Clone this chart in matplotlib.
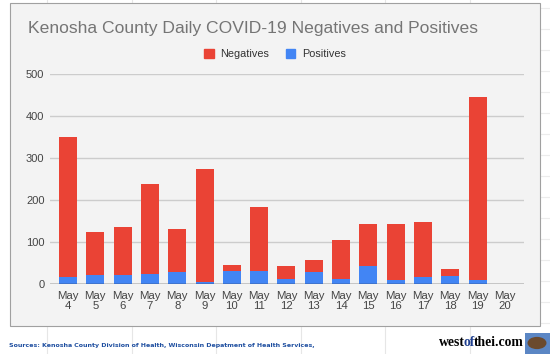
import numpy as np
import matplotlib
matplotlib.use("Agg")
import matplotlib.pyplot as plt
from matplotlib.patches import Rectangle, Circle
from matplotlib.lines import Line2D

days = ["May\n4", "May\n5", "May\n6", "May\n7", "May\n8", "May\n9", "May\n10", "May\n11",
        "May\n12", "May\n13", "May\n14", "May\n15", "May\n16", "May\n17", "May\n18", "May\n19",
        "May\n20"]
positives = [16, 21, 21, 23, 29, 5, 32, 30, 13, 29, 13, 44, 9, 17, 19, 9, 0]
negatives = [333, 102, 114, 214, 102, 268, 13, 153, 31, 27, 92, 100, 135, 131, 16, 436, 0]

RED = "#ea4335"
BLUE = "#4285f4"

plt.rcParams['font.family'] = ['Liberation Sans', 'DejaVu Sans']

W, H = 550, 354
fig = plt.figure(figsize=(W / 100, H / 100), dpi=100)
fig.patch.set_facecolor("white")

# faint spreadsheet grid behind the chart
for x in [47, 132, 216, 301, 385, 470]:
    fig.add_artist(Line2D([x / W, x / W], [0, 1], color="#e6e6e6", lw=0.8, zorder=0))
for y in range(8, 354, 21):
    fig.add_artist(Line2D([540 / W, 1], [1 - y / H, 1 - y / H], color="#ececec", lw=0.8, zorder=0))

# chart panel
fig.add_artist(Rectangle((10 / W, 1 - 326 / H), 530 / W, 323 / H, transform=fig.transFigure,
                         facecolor="#f3f3f3", edgecolor="#a0a0a0", lw=0.8, zorder=1))

ax = fig.add_axes([50 / W, 1 - 284 / H, 474 / W, 210 / H])
ax.patch.set_alpha(0)
ax.set_zorder(2)

x = np.arange(len(days))
ax.bar(x, positives, width=0.66, color=BLUE, zorder=3)
ax.bar(x, negatives, width=0.66, bottom=positives, color=RED, zorder=3)

ax.set_xlim(-0.66, 16.7)
ax.set_ylim(0, 500)
ax.set_yticks([0, 100, 200, 300, 400, 500])
ax.set_xticks(x)
ax.set_xticklabels(days, fontsize=8.2, color="#444444", linespacing=0.95)
ax.tick_params(axis="y", labelsize=8, labelcolor="#444444", length=0, pad=4)
ax.tick_params(axis="x", length=0, pad=5)
ax.yaxis.grid(True, color="#cccccc", lw=1, zorder=0)
ax.set_axisbelow(True)
for s in ax.spines.values():
    s.set_visible(False)
ax.axhline(0, color="#333333", lw=1, zorder=4)

fig.text(28 / W, 1 - 28 / H, "Kenosha County Daily COVID-19 Negatives and Positives",
         fontsize=12.6, color="#757575", va="center", ha="left", zorder=5)

handles = [Rectangle((0, 0), 1, 1, color=RED), Rectangle((0, 0), 1, 1, color=BLUE)]
fig.legend(handles, ["Negatives", "Positives"], loc="center", bbox_to_anchor=(275 / W, 1 - 54 / H),
           ncol=2, frameon=False, fontsize=7.8, handlelength=0.9, handleheight=0.9,
           handletextpad=0.6, columnspacing=1.5, labelcolor="#333333")

fig.text(9 / W, 1 - 345 / H,
         "Sources: Kenosha County Division of Health, Wisconsin Depatment of Health Services,",
         fontsize=4.5, color="#1f4fa0", fontweight="bold", va="center", ha="left",
         family="DejaVu Sans")

# site name, "of" in blue; pieces placed end to end
renderer = fig.canvas.get_renderer()
xpos = 439
for piece, col in [("west", "black"), ("of", "#1f3f8f"), ("thei.com", "black")]:
    t = fig.text(xpos / W, 1 - 346 / H, piece, fontsize=9.8, family="Liberation Serif",
                 fontweight="bold", color=col, va="baseline", ha="left")
    xpos += t.get_window_extent(renderer).width - 1

# little globe logo
fig.add_artist(Rectangle((525 / W, 0), 25 / W, 21 / H, transform=fig.transFigure,
                         facecolor="#5b86c4", edgecolor="none"))
fig.add_artist(Circle((537 / W, 1 - 343 / H), 9.5 / W, transform=fig.transFigure,
                      facecolor="#6b4a2e", edgecolor="none"))

fig.savefig("out.png", dpi=100)
